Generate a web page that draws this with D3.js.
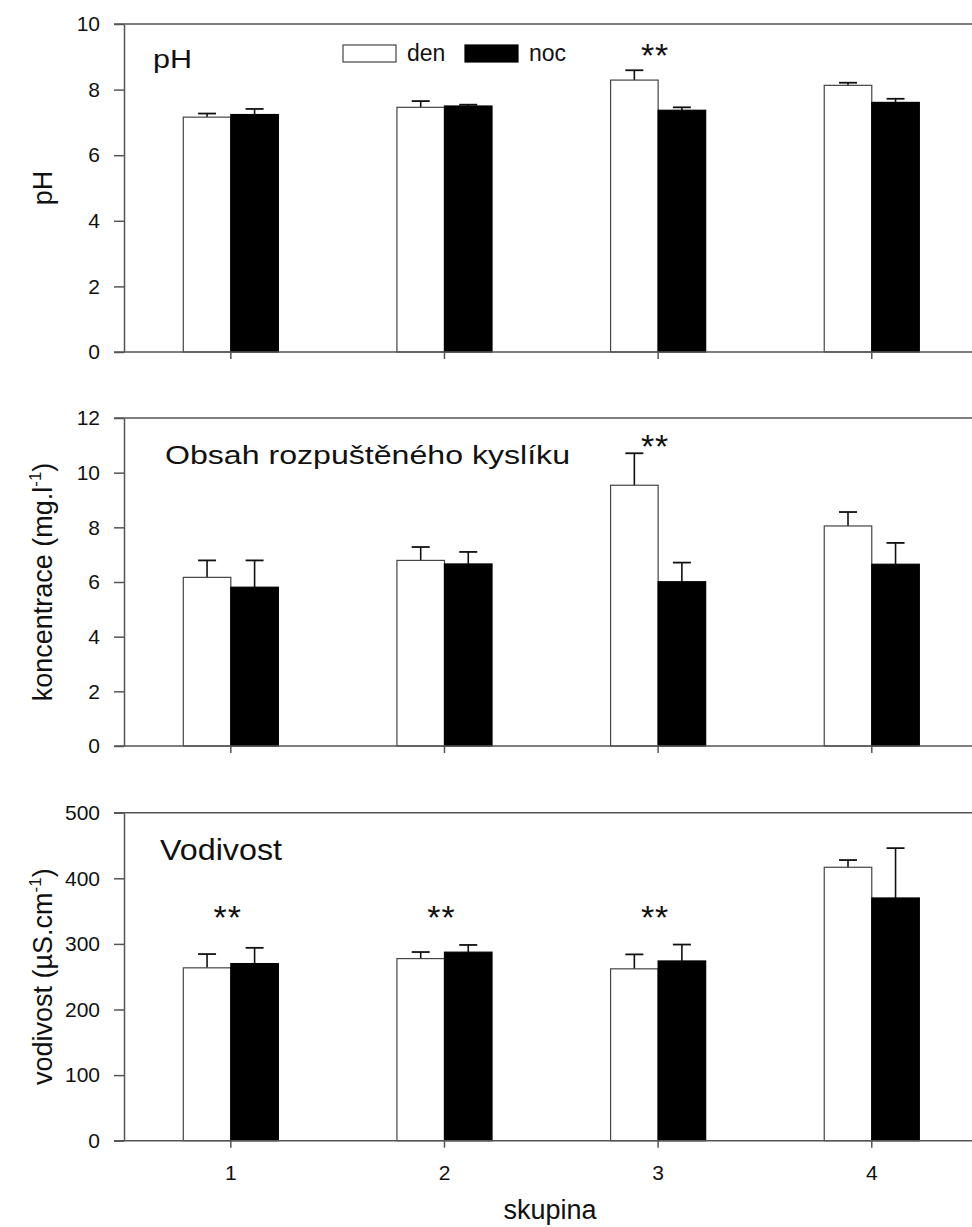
<!DOCTYPE html>
<html>
<head>
<meta charset="utf-8">
<script src="https://cdn.jsdelivr.net/npm/d3@7"></script>
<style>
  body { margin: 0; background: #fff; }
  svg { display: block; font-family: "Liberation Sans", Arial, sans-serif; }
</style>
</head>
<body>
<svg id="chart" width="972" height="1227"></svg>
<script>
// skupiny (x categories) and series names
const groups = ["1", "2", "3", "4"];
const series = ["den", "noc"];

// pH
const phDen = [7.16, 7.46, 8.29, 8.13];
const phDenErr = [0.11, 0.19, 0.30, 0.08];
const phNoc = [7.24, 7.50, 7.37, 7.61];
const phNocErr = [0.17, 0.04, 0.09, 0.11];
const phTicks = [0, 2, 4, 6, 8, 10];

// rozpuštěný kyslík (mg/l)
const o2Den = [6.17, 6.79, 9.54, 8.05];
const o2DenErr = [0.62, 0.49, 1.17, 0.51];
const o2Noc = [5.81, 6.66, 6.01, 6.65];
const o2NocErr = [0.98, 0.44, 0.70, 0.78];
const o2Ticks = [0, 2, 4, 6, 8, 10, 12];

// vodivost (uS/cm)
const condDen = [263.5, 277.6, 262, 416.8];
const condDenErr = [21, 10, 22, 11];
const condNoc = [270, 287.4, 274, 370];
const condNocErr = [24, 11, 25, 76];
const condTicks = [0, 100, 200, 300, 400, 500];

// significance marks: group + height in data units
const phStars = [{ g: "3", v: 8.7 }];
const o2Stars = [{ g: "3", v: 10.52 }];
const condStars = [{ g: "1", v: 322 }, { g: "2", v: 322 }, { g: "3", v: 322 }];

const panels = [
  { title: "pH", titleSize: 26, titleLen: 39, titleX: 153, titleY: 44,
    ylab: ["pH"], top: 24, max: 10, ticks: phTicks,
    den: phDen, denErr: phDenErr, noc: phNoc, nocErr: phNocErr, stars: phStars, legend: true },
  { title: "Obsah rozpuštěného kyslíku", titleSize: 26, titleLen: 405, titleX: 165, titleY: 46,
    ylab: ["koncentrace (mg.l", "-1", ")"], top: 418, max: 12, ticks: o2Ticks,
    den: o2Den, denErr: o2DenErr, noc: o2Noc, nocErr: o2NocErr, stars: o2Stars },
  { title: "Vodivost", titleSize: 29, titleLen: 122, titleX: 160, titleY: 47,
    ylab: ["vodivost (µS.cm", "-1", ")"], top: 812.7, max: 500, ticks: condTicks,
    den: condDen, denErr: condDenErr, noc: condNoc, nocErr: condNocErr, stars: condStars, xlabels: true }
];

const svg = d3.select("#chart");
const left = 124, right = 978.6, ph = 328;
const axisColor = "#555";

const x = d3.scaleBand().domain(groups).range([left, right])
  .paddingInner(0.555).paddingOuter(0.2775);
const xs = d3.scaleBand().domain(series).range([0, x.bandwidth()]);

panels.forEach(p => {
  const y = d3.scaleLinear().domain([0, p.max]).range([p.top + ph, p.top]);
  const g = svg.append("g");

  // bars
  const rows = groups.map((k, i) => ({ k, den: p.den[i], denErr: p.denErr[i], noc: p.noc[i], nocErr: p.nocErr[i] }));
  series.forEach(s => {
    const bars = g.append("g").selectAll("g").data(rows).join("g");
    bars.append("line")
      .attr("x1", d => x(d.k) + xs(s) + xs.bandwidth() / 2)
      .attr("x2", d => x(d.k) + xs(s) + xs.bandwidth() / 2)
      .attr("y1", d => y(d[s]))
      .attr("y2", d => y(d[s] + d[s + "Err"]))
      .attr("stroke", "#111").attr("stroke-width", 1.6);
    bars.append("line")
      .attr("x1", d => x(d.k) + xs(s) + xs.bandwidth() / 2 - 9)
      .attr("x2", d => x(d.k) + xs(s) + xs.bandwidth() / 2 + 9)
      .attr("y1", d => y(d[s] + d[s + "Err"]))
      .attr("y2", d => y(d[s] + d[s + "Err"]))
      .attr("stroke", "#111").attr("stroke-width", 1.8);
    bars.append("rect")
      .attr("x", d => x(d.k) + xs(s))
      .attr("y", d => y(d[s]))
      .attr("width", xs.bandwidth())
      .attr("height", d => y(0) - y(d[s]))
      .attr("fill", s === "den" ? "#fff" : "#000")
      .attr("stroke", s === "den" ? "#444" : "#000")
      .attr("stroke-width", 1.2);
  });

  // axes
  const ya = g.append("g").attr("transform", `translate(${left},0)`)
    .call(d3.axisLeft(y).tickValues(p.ticks).tickSize(10).tickSizeOuter(0).tickPadding(14));
  const xa = g.append("g").attr("transform", `translate(0,${p.top + ph})`)
    .call(d3.axisBottom(x).tickSize(7).tickSizeOuter(0).tickPadding(17)
      .tickFormat(p.xlabels ? d => d : () => ""));
  [ya, xa].forEach(a => {
    a.attr("font-size", 21).attr("font-family", '"Liberation Sans", Arial, sans-serif');
    a.selectAll("path, line").attr("stroke", axisColor).attr("stroke-width", 1.5);
    a.selectAll("text").attr("fill", "#111");
  });
  g.append("line").attr("x1", left - 10).attr("x2", 972)
    .attr("y1", p.top).attr("y2", p.top)
    .attr("stroke", axisColor).attr("stroke-width", 1.5);
  xa.select(".domain").attr("d", `M${left - 10},0H972`);

  // panel title
  g.append("text").attr("x", p.titleX).attr("y", p.top + p.titleY)
    .attr("font-size", p.titleSize).attr("fill", "#111")
    .attr("textLength", p.titleLen).attr("lengthAdjust", "spacingAndGlyphs")
    .text(p.title);

  // y label
  const yl = g.append("text")
    .attr("transform", `translate(52,${p.top + ph / 2}) rotate(-90)`)
    .attr("text-anchor", "middle").attr("font-size", 27).attr("fill", "#111");
  yl.append("tspan").text(p.ylab[0]);
  if (p.ylab.length > 1) {
    yl.append("tspan").attr("font-size", 17).attr("dy", -11).text(p.ylab[1]);
    yl.append("tspan").attr("dy", 11).text(p.ylab[2]);
  }

  // stars
  g.selectAll(".star").data(p.stars).join("text")
    .attr("x", d => x(d.g) + x.bandwidth() / 2 - 3)
    .attr("y", d => y(d.v))
    .attr("text-anchor", "middle").attr("font-size", 34).attr("fill", "#111")
    .attr("letter-spacing", 1)
    .text("**");

  // legend
  if (p.legend) {
    const lg = g.append("g").attr("transform", `translate(343,${p.top + 21})`);
    series.forEach((s, i) => {
      lg.append("rect").attr("x", i * 122).attr("y", 0).attr("width", 53).attr("height", 17)
        .attr("fill", s === "den" ? "#fff" : "#000")
        .attr("stroke", s === "den" ? "#444" : "#000").attr("stroke-width", 1.2);
      lg.append("text").attr("x", i * 122 + 64).attr("y", 16)
        .attr("font-size", 23).attr("fill", "#111").text(s);
    });
  }
});

// x axis title
svg.append("text").attr("x", 550).attr("y", 1219)
  .attr("text-anchor", "middle").attr("font-size", 27).attr("fill", "#111")
  .text("skupina");
</script>
</body>
</html>
